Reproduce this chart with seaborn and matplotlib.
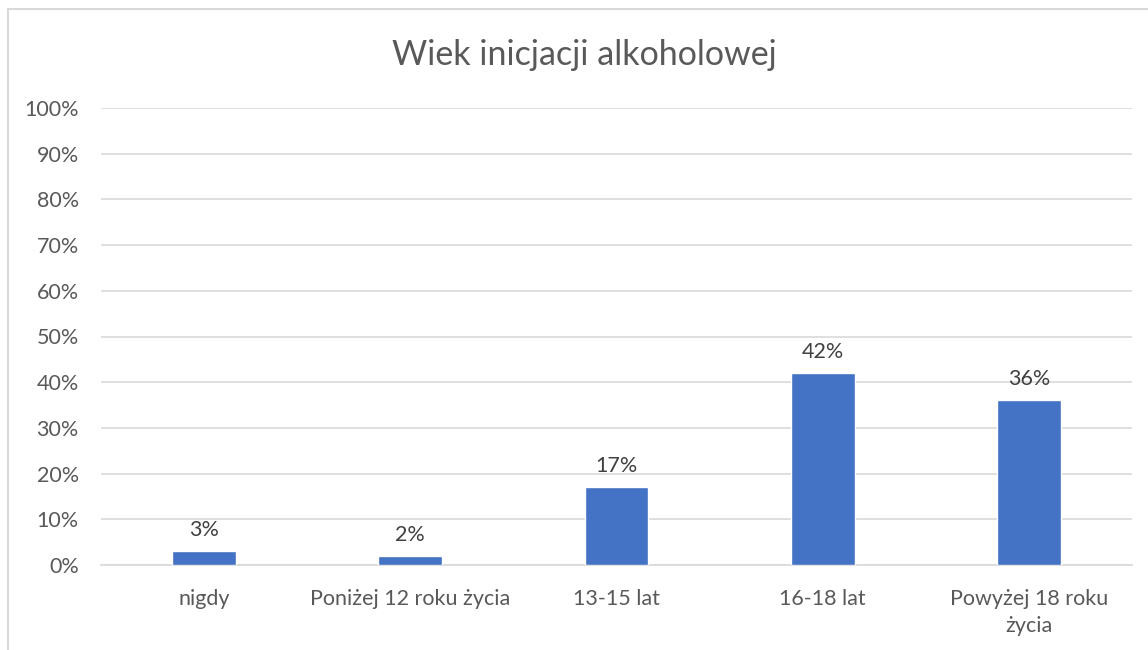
import matplotlib
matplotlib.use("Agg")
import matplotlib.pyplot as plt
import matplotlib.patches as mpatches
from matplotlib.ticker import MultipleLocator, PercentFormatter
import seaborn as sns
import pandas as pd

categories = ["nigdy", "Poniżej 12 roku życia", "13-15 lat", "16-18 lat", "Powyżej 18 roku\nżycia"]
values = [3, 2, 17, 42, 36]
title = "Wiek inicjacji alkoholowej"

sns.set_theme(style="white")
plt.rcParams['font.family'] = ['Lato', 'DejaVu Sans']

df = pd.DataFrame({"cat": categories, "val": values})

fig = plt.figure(figsize=(11.48, 6.5), dpi=100)
ax = fig.add_axes([101/1148, 1-565/650, (1132-101)/1148, (565-108)/650])

sns.barplot(data=df, x="cat", y="val", color="#4472C4", width=0.31, saturation=1, ax=ax, zorder=3)

ax.set_ylim(0, 100)
ax.yaxis.set_major_locator(MultipleLocator(10))
ax.yaxis.set_major_formatter(PercentFormatter(decimals=0))
ax.grid(axis="y", color="#D9D9D9", linewidth=1.2, zorder=0)
ax.set_axisbelow(True)
for s in ["top", "right", "left"]:
    ax.spines[s].set_visible(False)
ax.spines["bottom"].set_color("#D9D9D9")
ax.spines["bottom"].set_linewidth(1.2)
ax.set_xlabel("")
ax.set_ylabel("")
ax.tick_params(axis="both", length=0, labelsize=15.5, labelcolor="#595959")
ax.tick_params(axis="x", pad=17)
ax.tick_params(axis="y", pad=16)
for lbl in ax.get_xticklabels():
    lbl.set_linespacing(1.45)
ax.set_xlim(-0.5, len(categories) - 0.5)

for c in ax.containers:
    ax.bar_label(c, labels=[f"{v}%" for v in values], padding=8, fontsize=15.5, color="#404040")

fig.text(584/1148, 1-55/650, title, ha="center", va="center", fontsize=24.5, color="#595959")

border = mpatches.Rectangle((8/1148, -0.1), 1.2, 1-9/650+0.1, transform=fig.transFigure,
                            fill=False, edgecolor="#D9D9D9", linewidth=1.5)
fig.patches.append(border)

fig.savefig("out.png", dpi=100)
